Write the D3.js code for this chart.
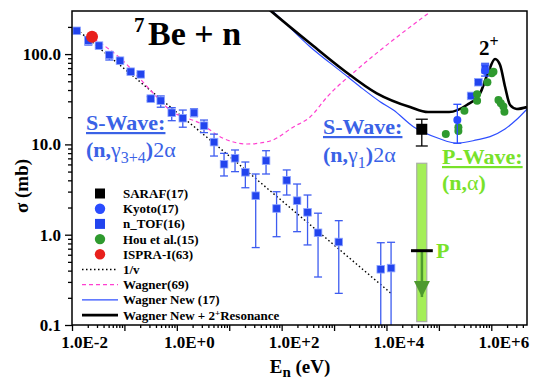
<!DOCTYPE html>
<html lang="en">
  <head>
    <meta charset="utf-8" />
    <title>7Be + n</title>
    <script src="https://d3js.org/d3.v7.min.js"></script>
    <style>
      body { margin: 0; background: #fff; }
      text { font-family: "Liberation Serif", "Times New Roman", serif; }
    </style>
  </head>
  <body>
    <script>
      // Canvas and plot frame
      const WIDTH = 545, HEIGHT = 389;
      const LEFT = 72, RIGHT = 527, TOP = 11, BOTTOM = 325;

      // Colours
      const NTOF_BLUE = "#2244ee";
      const KYOTO_BLUE = "#2a4cff";
      const HOU_GREEN = "#2f9a2f";
      const ISPRA_RED = "#e8201c";
      const PINK = "#ff3fd0";
      const LINE_BLUE = "#2f4fff";
      const TEXT_BLUE = "#3a62e6";
      const LIME = "#78e22a";

      // Axis ticks
      const xTickValues = [1e-2, 1, 1e2, 1e4, 1e6];
      const xTickLabels = ["1.0E-2", "1.0E+0", "1.0E+2", "1.0E+4", "1.0E+6"];
      const yTickValues = [0.1, 1, 10, 100];
      const yTickLabels = ["0.1", "1.0", "10.0", "100.0"];

      // n_TOF(16)
      const ntofE = [0.0123, 0.0205, 0.0327, 0.0515, 0.0824, 0.132, 0.205, 0.318, 0.493, 0.80, 1.30, 2.13, 3.30, 5.13, 7.96, 12.9, 20.3, 32.0, 50.4, 80.0, 125, 197, 312, 495, 1230, 7780, 12240, 412000, 567000, 762000];
      const ntofS = [181, 141, 124, 97.7, 84.5, 63.8, 59.7, 32.1, 30.5, 22.4, 19.5, 22.4, 16.1, 10.6, 6.03, 7.02, 4.91, 2.70, 6.61, 1.95, 4.0, 2.38, 1.77, 1.05, 0.83, 0.414, 0.427, 34.4, 48.8, 70];
      const ntofLo = [176, 126, 119, 86, 81, 61, 57, 30.5, 25.8, 18.3, 15.5, 20.3, 13.5, 7.43, 4.47, 4.99, 3.31, 0.72, 4.70, 0.95, 2.75, 1.08, 0.77, 0.34, 0.224, 0.05, 0.05, 33, 47, 62];
      const ntofHi = [186, 156, 129, 106, 88, 66.5, 62, 33.8, 34.4, 25.5, 24.0, 24.8, 18.6, 13.0, 7.96, 8.67, 6.38, 4.70, 8.51, 2.99, 5.21, 3.64, 2.75, 1.73, 1.43, 0.815, 0.824, 36, 51, 79];

      // Kyoto(17)
      const kyotoE = [225000, 762000];
      const kyotoS = [18.6, 65.5];
      const kyotoLo = [10.3, 57.1];
      const kyotoHi = [27.8, 75.7];

      // Hou et al.(15)
      const houE = [135500, 235600, 235600, 307000, 536000, 536000, 843000, 1.02e6, 1.10e6, 1.37e6, 1.52e6, 1.70e6, 1.78e6];
      const houS = [13.0, 15.5, 14.1, 23.6, 30.5, 35.9, 48.8, 61.3, 63.8, 31.0, 28.5, 26.2, 23.0];

      // SARAF(17) and ISPRA-I(63)
      const sarafE = [47200], sarafS = [14.7], sarafLo = [9.6], sarafHi = [19.0];
      const ispraE = [0.0241], ispraS = [156];

      // P-wave (n,alpha) band and upper limit
      const pBandE = [37800, 58800];
      const pBandS = [0.109, 6.18];
      const pLimitE = [29400, 76600];
      const pLimitS = 0.665;
      const pArrowS = [0.665, 0.204];

      // Curves
      const oneOverVE = [0.01245, 5.13, 12240];
      const oneOverVS = [187, 10.3, 0.224];
      const wagner69E = [0.0202, 0.0824, 0.352, 0.741, 2.77, 7.62, 21.9, 60.1, 165, 349, 735, 3130, 13370, 67900];
      const wagner69S = [162, 90.6, 37.1, 24.0, 17.1, 11.7, 10.1, 10.9, 15.5, 20.1, 33.5, 71.9, 143, 292];
      const wagnerNewE = [37.1, 68.5, 348, 1503, 3133, 7550, 13550, 32600, 97700, 222000, 528000, 948000, 1.83e6, 2.97e6, 4.82e6];
      const wagnerNewS = [397, 295, 120.8, 61.2, 43.5, 29.7, 24.0, 15.7, 11.7, 10.3, 11.2, 12.2, 14.8, 18.6, 24.7];
      const resonanceE = [35.5, 64.7, 348, 1503, 6530, 28200, 62200, 157000, 341000, 611000, 881000, 1.18e6, 1.47e6, 1.83e6, 2.28e6, 3.07e6, 4.77e6];
      const resonanceS = [397, 295, 131.8, 66.7, 36.8, 25.9, 22.8, 22.8, 27.3, 36.8, 63.8, 88.3, 75.7, 43.5, 27.3, 24.7, 25.9];

      // Legend
      const legendLabels = ["SARAF(17)", "Kyoto(17)", "n_TOF(16)", "Hou et al.(15)", "ISPRA-I(63)", "1/v", "Wagner(69)", "Wagner New (17)", "Wagner New + 2"];
      const legendKinds = ["square", "circle", "square", "circle", "circle", "dotted", "dashed", "thin", "thick"];
      const legendColors = ["#000", KYOTO_BLUE, NTOF_BLUE, HOU_GREEN, ISPRA_RED, "#000", PINK, LINE_BLUE, "#000"];

      const x = d3.scaleLog().domain([1e-2, 4.8e6]).range([LEFT, RIGHT]);
      const y = d3.scaleLog().domain([0.1, 300]).range([BOTTOM, TOP]);

      const svg = d3.select("body").append("svg")
        .attr("width", WIDTH)
        .attr("height", HEIGHT);

      svg.append("clipPath").attr("id", "plot")
        .append("rect")
        .attr("x", LEFT).attr("y", TOP)
        .attr("width", RIGHT - LEFT).attr("height", BOTTOM - TOP);

      const plot = svg.append("g").attr("clip-path", "url(#plot)");

      // Minor tick values for both axes
      function minors(scale) {
        const [a, b] = scale.domain();
        const out = [];
        for (let e = Math.floor(Math.log10(a)); e <= Math.ceil(Math.log10(b)); e++) {
          for (let k = 2; k <= 9; k++) {
            const v = k * Math.pow(10, e);
            if (v > a && v < b) out.push(v);
          }
        }
        return out;
      }
      const xDecades = d3.range(-2, 7).map((e) => Math.pow(10, e));
      const yDecades = d3.range(-1, 3).map((e) => Math.pow(10, e));

      // X axis
      const xMinor = svg.append("g").attr("transform", `translate(0,${BOTTOM})`)
        .call(d3.axisBottom(x).tickValues(minors(x)).tickSize(3).tickSizeOuter(0).tickFormat(""));
      const xMajor = svg.append("g").attr("transform", `translate(0,${BOTTOM})`)
        .call(d3.axisBottom(x).tickValues(xDecades).tickSize(6).tickSizeOuter(0).tickPadding(5)
          .tickFormat((d) => {
            const i = xTickValues.findIndex((v) => Math.abs(v - d) / v < 1e-6);
            return i < 0 ? "" : xTickLabels[i];
          }));
      xMajor.selectAll("text").attr("dx", 12);

      // Y axis
      const yMinor = svg.append("g").attr("transform", `translate(${LEFT},0)`)
        .call(d3.axisLeft(y).tickValues(minors(y)).tickSize(4).tickSizeOuter(0).tickFormat(""));
      const yMajor = svg.append("g").attr("transform", `translate(${LEFT},0)`)
        .call(d3.axisLeft(y).tickValues(yDecades).tickSize(7).tickSizeOuter(0).tickPadding(4)
          .tickFormat((d) => yTickLabels[yTickValues.findIndex((v) => Math.abs(v - d) / v < 1e-6)]));

      [xMinor, xMajor, yMinor, yMajor].forEach((g) => {
        g.selectAll("path").remove();
        g.selectAll("line").attr("stroke", "#000").attr("stroke-width", 1.3);
        g.selectAll("text")
          .attr("fill", "#000")
          .style("font-family", '"Liberation Serif", serif')
          .style("font-weight", "bold")
          .style("font-size", "17px");
      });

      // Frame
      svg.append("rect")
        .attr("x", LEFT).attr("y", TOP)
        .attr("width", RIGHT - LEFT).attr("height", BOTTOM - TOP)
        .attr("fill", "none").attr("stroke", "#000").attr("stroke-width", 1.5);

      // Axis titles
      const xt = svg.append("text")
        .attr("x", 300).attr("y", 373)
        .attr("text-anchor", "middle")
        .style("font-weight", "bold").style("font-size", "19px");
      xt.append("tspan").text("E");
      xt.append("tspan").attr("dy", 4).style("font-size", "15px").text("n");
      xt.append("tspan").attr("dy", -4).text(" (eV)");

      svg.append("text")
        .attr("transform", "translate(28,186) rotate(-90)")
        .attr("text-anchor", "middle")
        .style("font-weight", "bold").style("font-size", "19px")
        .text("\u03c3 (mb)");

      // P-wave band
      plot.append("rect")
        .attr("x", x(pBandE[0])).attr("y", y(pBandS[1]))
        .attr("width", x(pBandE[1]) - x(pBandE[0]))
        .attr("height", y(pBandS[0]) - y(pBandS[1]))
        .attr("fill", "#a4ee58").attr("stroke", "#a9b0a4").attr("stroke-width", 1.2);

      // Curves
      const line = d3.line()
        .x((d) => x(d[0]))
        .y((d) => y(d[1]))
        .curve(d3.curveMonotoneX);
      const pairs = (a, b) => a.map((v, i) => [v, b[i]]);

      plot.append("path")
        .attr("d", line.curve(d3.curveLinear)(pairs(oneOverVE, oneOverVS)))
        .attr("fill", "none").attr("stroke", "#000")
        .attr("stroke-width", 1.4).attr("stroke-dasharray", "1.5,2.5");
      line.curve(d3.curveMonotoneX);

      plot.append("path")
        .attr("d", line(pairs(wagner69E, wagner69S)))
        .attr("fill", "none").attr("stroke", PINK)
        .attr("stroke-width", 1.2).attr("stroke-dasharray", "4,3");

      plot.append("path")
        .attr("d", line(pairs(wagnerNewE, wagnerNewS)))
        .attr("fill", "none").attr("stroke", LINE_BLUE).attr("stroke-width", 1.2);

      plot.append("path")
        .attr("d", line(pairs(resonanceE, resonanceS)))
        .attr("fill", "none").attr("stroke", "#000").attr("stroke-width", 2.6);

      // Error bars
      function errorBars(E, lo, hi, color, cap) {
        const g = plot.append("g").attr("stroke", color).attr("stroke-width", 1.3);
        E.forEach((e, i) => {
          const cx = x(e);
          g.append("line").attr("x1", cx).attr("x2", cx).attr("y1", y(lo[i])).attr("y2", y(hi[i]));
          g.append("line").attr("x1", cx - cap).attr("x2", cx + cap).attr("y1", y(lo[i])).attr("y2", y(lo[i]));
          g.append("line").attr("x1", cx - cap).attr("x2", cx + cap).attr("y1", y(hi[i])).attr("y2", y(hi[i]));
        });
      }

      errorBars(ntofE, ntofLo, ntofHi, "#3d5cf0", 4);
      plot.append("g").selectAll("rect")
        .data(d3.range(ntofE.length))
        .join("rect")
        .attr("x", (i) => x(ntofE[i]) - 3.8)
        .attr("y", (i) => y(ntofS[i]) - 3.8)
        .attr("width", 7.6).attr("height", 7.6)
        .attr("fill", NTOF_BLUE).attr("stroke", "#8fa5ff").attr("stroke-width", 0.8);

      plot.append("g").selectAll("circle")
        .data(d3.range(houE.length))
        .join("circle")
        .attr("cx", (i) => x(houE[i]))
        .attr("cy", (i) => y(houS[i]))
        .attr("r", 4)
        .attr("fill", HOU_GREEN);

      errorBars(kyotoE, kyotoLo, kyotoHi, KYOTO_BLUE, 4);
      plot.append("g").selectAll("circle")
        .data(d3.range(kyotoE.length))
        .join("circle")
        .attr("cx", (i) => x(kyotoE[i]))
        .attr("cy", (i) => y(kyotoS[i]))
        .attr("r", 4)
        .attr("fill", KYOTO_BLUE);

      errorBars(sarafE, sarafLo, sarafHi, "#000", 6);
      plot.append("rect")
        .attr("x", x(sarafE[0]) - 5.5).attr("y", y(sarafS[0]) - 5.5)
        .attr("width", 11).attr("height", 11)
        .attr("fill", "#000");

      plot.append("circle")
        .attr("cx", x(ispraE[0])).attr("cy", y(ispraS[0]))
        .attr("r", 6).attr("fill", ISPRA_RED);

      // P upper limit with arrow
      const pMid = Math.sqrt(pLimitE[0] * pLimitE[1]);
      plot.append("line")
        .attr("x1", x(pMid)).attr("x2", x(pMid))
        .attr("y1", y(pArrowS[0])).attr("y2", y(pArrowS[1]))
        .attr("stroke", "#4e9a2e").attr("stroke-width", 2.5);
      plot.append("path")
        .attr("d", `M${x(pMid) - 8},${y(pArrowS[1]) - 16}L${x(pMid) + 8},${y(pArrowS[1]) - 16}L${x(pMid)},${y(pArrowS[1])}Z`)
        .attr("fill", "#4e9a2e");
      plot.append("line")
        .attr("x1", x(pLimitE[0])).attr("x2", x(pLimitE[1]))
        .attr("y1", y(pLimitS)).attr("y2", y(pLimitS))
        .attr("stroke", "#000").attr("stroke-width", 3);

      // Annotations
      svg.append("text").attr("x", 134).attr("y", 32)
        .style("font-weight", "bold").style("font-size", "21px").text("7");
      svg.append("text").attr("x", 148).attr("y", 45)
        .style("font-weight", "bold").style("font-size", "34px").text("Be + n");

      const twoPlus = svg.append("text").attr("x", 479).attr("y", 55)
        .style("font-weight", "bold").style("font-size", "21px");
      twoPlus.append("tspan").text("2");
      twoPlus.append("tspan").attr("dy", -8).style("font-size", "16px").text("+");

      function waveLabel(x0, y0, title, color) {
        svg.append("text").attr("x", x0).attr("y", y0)
          .attr("fill", color)
          .style("font-weight", "bold").style("font-size", "22px")
          .style("text-decoration", "underline")
          .text(title);
      }
      waveLabel(86, 130, "S-Wave:", TEXT_BLUE);
      waveLabel(323, 134, "S-Wave:", TEXT_BLUE);
      waveLabel(442, 164, "P-Wave:", LIME);

      const g34 = svg.append("text").attr("x", 86).attr("y", 157)
        .attr("fill", TEXT_BLUE).style("font-size", "22px");
      g34.append("tspan").style("font-weight", "bold").text("(n,");
      g34.append("tspan").text("\u03b3");
      g34.append("tspan").attr("dy", 6).style("font-size", "16px").text("3+4");
      g34.append("tspan").attr("dy", -6).style("font-weight", "bold").text(")");
      g34.append("tspan").text("2\u03b1");

      const g1 = svg.append("text").attr("x", 323).attr("y", 162)
        .attr("fill", TEXT_BLUE).style("font-size", "22px");
      g1.append("tspan").style("font-weight", "bold").text("(n,");
      g1.append("tspan").text("\u03b3");
      g1.append("tspan").attr("dy", 6).style("font-size", "16px").text("1");
      g1.append("tspan").attr("dy", -6).style("font-weight", "bold").text(")");
      g1.append("tspan").text("2\u03b1");

      const na = svg.append("text").attr("x", 442).attr("y", 190)
        .attr("fill", LIME).style("font-size", "22px").style("font-weight", "bold");
      na.append("tspan").text("(n,");
      na.append("tspan").style("font-weight", "normal").text("\u03b1");
      na.append("tspan").text(")");

      svg.append("text").attr("x", 436).attr("y", 258)
        .attr("fill", LIME).style("font-weight", "bold").style("font-size", "22px").text("P");

      // Legend
      const legend = svg.append("g");
      legendLabels.forEach((label, i) => {
        const ly = 193.5 + i * 15.2;
        const kind = legendKinds[i];
        const c = legendColors[i];
        if (kind === "square") {
          legend.append("rect").attr("x", 95).attr("y", ly - 5).attr("width", 10).attr("height", 10).attr("fill", c);
        } else if (kind === "circle") {
          legend.append("circle").attr("cx", 100).attr("cy", ly).attr("r", 5.2).attr("fill", c);
        } else {
          const l = legend.append("line").attr("x1", 82).attr("x2", 118).attr("y1", ly).attr("y2", ly).attr("stroke", c);
          if (kind === "dotted") l.attr("stroke-width", 1.4).attr("stroke-dasharray", "1.5,2.5");
          if (kind === "dashed") l.attr("stroke-width", 1.2).attr("stroke-dasharray", "4,3");
          if (kind === "thin") l.attr("stroke-width", 1.2);
          if (kind === "thick") l.attr("stroke-width", 2.6);
        }
        const t = legend.append("text").attr("x", 123).attr("y", ly + 4.5)
          .style("font-weight", "bold").style("font-size", "13px").text(label);
        if (kind === "thick") {
          t.append("tspan").attr("dy", -4).style("font-size", "9px").text("+");
          t.append("tspan").attr("dy", 4).text("Resonance");
        }
      });
    </script>
  </body>
</html>
